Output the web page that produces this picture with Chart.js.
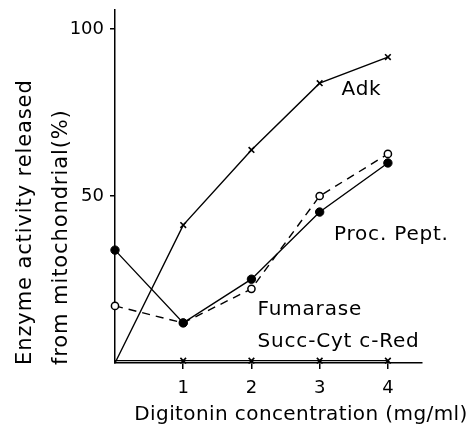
<!DOCTYPE html>
<html>
<head>
<meta charset="utf-8">
<script src="https://cdn.jsdelivr.net/npm/chart.js@4"></script>
<style>
  body { margin: 0; background: #fff; }
  canvas { display: block; }
</style>
</head>
<body>
<canvas id="chart" width="476" height="434"></canvas>
<script>
const ctx = document.querySelector("#chart").getContext("2d");

// digitonin (mg/ml)
const conc = [0, 1, 2, 3, 4];
// enzyme activity released (%)
const adk = [0, 41.3, 63.8, 83.8, 91.6];
const procPept = [33.8, 12.0, 25.1, 45.2, 59.9];
const fumarase = [17.1, 12.0, 22.2, 50.0, 62.6];
const succCyt = [0.7, 0.7, 0.7, 0.7, 0.7];

const xTicks = [1, 2, 3, 4];
const yTicks = [50, 100];

// curve names written next to the lines, in data units
const curveLabels = [
  { text: "Adk", x: 3.32, y: 81.7 },
  { text: "Proc. Pept.", x: 3.21, y: 38.3 },
  { text: "Fumarase", x: 2.09, y: 15.9 },
  { text: "Succ-Cyt c-Red", x: 2.09, y: 6.3 },
];

const FONT = "'DejaVu Sans', sans-serif";

const pts = function (ys) {
  return conc.map(function (x, i) { return { x: x, y: ys[i] }; });
};

const hideFirst = function (r) {
  return function (c) { return c.dataIndex === 0 ? 0 : r; };
};

const textPlugin = {
  id: "texts",
  afterDraw(chart) {
    const c = chart.ctx;
    const xs = chart.scales.x;
    const ys = chart.scales.y;
    c.save();
    c.fillStyle = "#000";
    c.font = "20px " + FONT;
    c.letterSpacing = "0.8px";
    c.textBaseline = "middle";
    c.textAlign = "left";
    curveLabels.forEach(function (l) {
      c.fillText(l.text, xs.getPixelForValue(l.x), ys.getPixelForValue(l.y));
    });
    // x axis title
    c.letterSpacing = "0.4px";
    c.textAlign = "center";
    c.fillText("Digitonin concentration (mg/ml)", 301, 415);
    // y axis title, two lines starting at the bottom
    c.font = "21px " + FONT;
    c.letterSpacing = "0.9px";
    c.translate(0, 365);
    c.rotate(-Math.PI / 2);
    c.textAlign = "left";
    c.fillText("Enzyme activity released", 0, 26);
    c.fillText("from mitochondrial(%)", 0, 62);
    c.restore();
  },
};

const noPad = function (s) {
  s.paddingTop = 0;
  s.paddingBottom = 0;
  s.paddingLeft = 0;
  s.paddingRight = 0;
};

const chart = new Chart(ctx, {
  type: "line",
  data: {
    datasets: [
      {
        label: "Adk",
        data: pts(adk),
        borderColor: "#000",
        borderWidth: 1.4,
        pointStyle: "crossRot",
        pointRadius: hideFirst(4),
        pointBorderColor: "#000",
        pointBorderWidth: 1.6,
      },
      {
        label: "Proc. Pept.",
        data: pts(procPept),
        borderColor: "#000",
        borderWidth: 1.4,
        pointStyle: "circle",
        pointRadius: 4.2,
        pointBackgroundColor: "#000",
        pointBorderColor: "#000",
        pointBorderWidth: 1,
      },
      {
        label: "Fumarase",
        data: pts(fumarase),
        borderColor: "#000",
        borderWidth: 1.4,
        borderDash: [8, 6],
        pointStyle: "circle",
        pointRadius: 3.6,
        pointBackgroundColor: "#fff",
        pointBorderColor: "#000",
        pointBorderWidth: 1.5,
      },
      {
        label: "Succ-Cyt c-Red",
        data: pts(succCyt),
        borderColor: "#000",
        borderWidth: 1.4,
        pointStyle: "crossRot",
        pointRadius: hideFirst(4),
        pointBorderColor: "#000",
        pointBorderWidth: 1.6,
      },
    ],
  },
  options: {
    responsive: false,
    animation: false,
    clip: false,
    layout: { padding: { top: 10, right: 54, left: 0, bottom: 0 } },
    plugins: { legend: { display: false }, tooltip: { enabled: false } },
    elements: { line: { tension: 0 } },
    scales: {
      x: {
        type: "linear",
        min: 0,
        max: 4.5,
        afterBuildTicks: function (s) {
          s.ticks = xTicks.map(function (v) { return { value: v }; });
        },
        afterFit: function (s) { s.height = 71; noPad(s); },
        border: { display: true, color: "#000", width: 1.5 },
        grid: { drawOnChartArea: false, drawTicks: true, tickLength: 6, color: "#000", lineWidth: 1.5 },
        ticks: { color: "#000", padding: 9, font: { family: FONT, size: 18 } },
      },
      y: {
        type: "linear",
        min: 0,
        max: 105.7,
        afterBuildTicks: function (s) {
          s.ticks = yTicks.map(function (v) { return { value: v }; });
        },
        afterFit: function (s) { s.width = 115; noPad(s); },
        border: { display: true, color: "#000", width: 1.5 },
        grid: { drawOnChartArea: false, drawTicks: true, tickLength: 5, color: "#000", lineWidth: 1.5 },
        ticks: { color: "#000", padding: 6, font: { family: FONT, size: 18 } },
      },
    },
  },
  plugins: [textPlugin],
});
</script>
</body>
</html>
